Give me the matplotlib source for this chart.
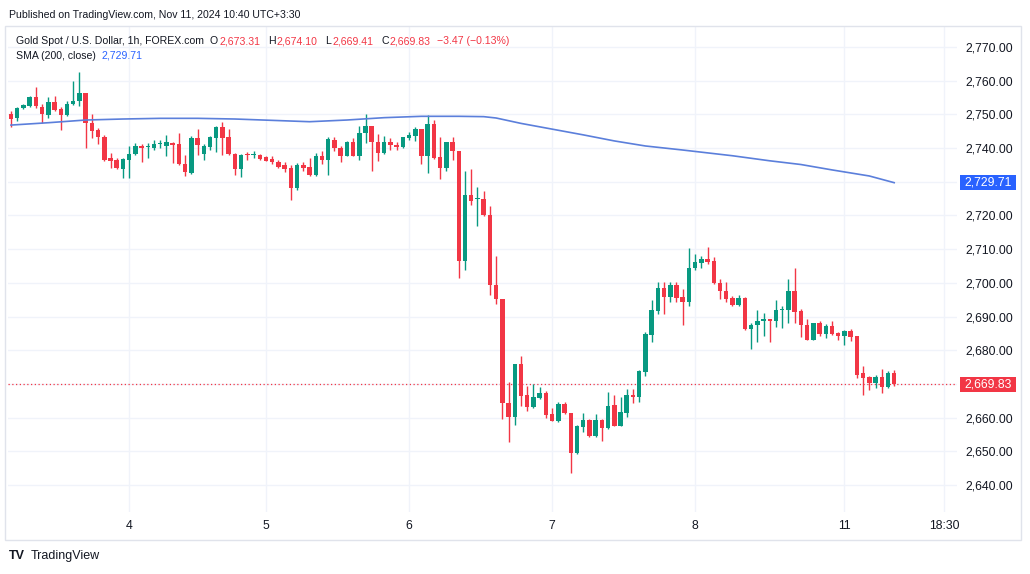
import numpy as np
import matplotlib.pyplot as plt
from matplotlib.patches import Rectangle
from matplotlib.transforms import blended_transform_factory

# hourly candles, Gold Spot / USD (FOREX.com)
opens = [2750.0, 2748.8, 2752.0, 2752.5, 2755.2, 2752.3, 2749.8, 2753.7, 2751.5, 2749.7,
         2753.2, 2754.0, 2756.4, 2747.3, 2745.2, 2743.3, 2737.0, 2736.5, 2733.8, 2736.5,
         2738.2, 2740.7, 2740.2, 2740.0, 2741.3, 2740.6, 2741.5, 2741.2, 2735.2, 2732.5,
         2743.0, 2738.2, 2740.2, 2743.0, 2746.3, 2743.3, 2738.2, 2733.8, 2738.2, 2737.9,
         2738.0, 2737.2, 2736.8, 2735.8, 2735.0, 2734.0, 2728.0, 2735.0, 2734.3, 2732.1,
         2737.6, 2736.4, 2742.4, 2739.9, 2737.7, 2741.7, 2737.7, 2744.4, 2746.5, 2741.9,
         2738.5, 2741.9, 2741.0, 2740.2, 2742.9, 2743.7, 2745.7, 2737.7, 2747.2, 2737.4,
         2734.0, 2741.7, 2739.0, 2706.5, 2726.0, 2725.0, 2724.8, 2720.2, 2699.4, 2695.3,
         2664.4, 2660.1, 2676.0, 2666.6, 2663.1, 2665.8, 2667.4, 2661.1, 2659.1, 2664.1,
         2661.5, 2649.4, 2657.2, 2659.2, 2654.6, 2659.2, 2656.9, 2663.7, 2657.6, 2661.5,
         2666.8, 2666.2, 2673.6, 2684.5, 2691.7, 2698.6, 2695.7, 2699.3, 2695.7, 2694.2,
         2704.3, 2705.9, 2707.1, 2706.4, 2699.8, 2697.5, 2695.4, 2693.5, 2695.4, 2686.3,
         2687.5, 2688.7, 2689.2, 2688.7, 2691.9, 2692.0, 2697.7, 2691.7, 2687.6, 2683.1,
         2688.0, 2684.8, 2687.1, 2685.1, 2684.3, 2685.7, 2684.3, 2673.1, 2672.2, 2670.2,
         2672.2, 2669.2, 2673.31]
highs = [2751.0, 2752.3, 2753.0, 2755.5, 2758.2, 2753.0, 2755.2, 2755.5, 2752.2, 2754.0,
         2760.0, 2762.5, 2756.4, 2750.0, 2746.0, 2744.0, 2738.5, 2737.0, 2737.0, 2740.5,
         2741.5, 2741.2, 2741.5, 2742.5, 2742.5, 2744.0, 2741.8, 2744.5, 2738.0, 2743.5,
         2745.5, 2741.2, 2743.7, 2746.5, 2747.8, 2745.5, 2738.5, 2738.2, 2738.8, 2739.2,
         2738.2, 2737.5, 2737.5, 2736.5, 2735.8, 2735.0, 2735.5, 2735.8, 2737.0, 2738.6,
         2739.2, 2743.2, 2743.2, 2740.7, 2742.0, 2742.9, 2746.4, 2750.2, 2746.5, 2744.2,
         2743.7, 2742.9, 2741.9, 2743.4, 2744.7, 2746.2, 2745.7, 2749.7, 2748.4, 2743.4,
         2741.9, 2743.4, 2739.0, 2733.2, 2733.7, 2728.4, 2727.2, 2722.7, 2708.0, 2695.3,
         2670.5, 2676.0, 2678.4, 2669.5, 2670.0, 2669.0, 2667.8, 2662.8, 2664.6, 2664.6,
         2661.5, 2657.8, 2661.3, 2659.7, 2661.0, 2659.5, 2667.7, 2666.7, 2666.2, 2668.4,
         2668.4, 2674.1, 2685.5, 2694.9, 2700.1, 2700.1, 2700.3, 2700.3, 2698.1, 2710.2,
         2708.5, 2707.9, 2710.5, 2707.6, 2701.1, 2700.3, 2696.2, 2696.4, 2695.7, 2688.2,
         2691.9, 2691.0, 2689.4, 2695.0, 2693.2, 2701.1, 2704.3, 2692.2, 2689.2, 2688.2,
         2688.7, 2687.8, 2688.7, 2685.5, 2686.1, 2686.3, 2684.3, 2675.4, 2672.4, 2672.6,
         2674.4, 2673.9, 2674.10]
lows = [2746.2, 2748.0, 2751.5, 2752.2, 2752.0, 2747.5, 2749.0, 2751.0, 2745.3, 2749.5,
        2752.8, 2752.5, 2740.0, 2743.0, 2741.2, 2736.0, 2734.0, 2733.8, 2731.0, 2731.0,
        2737.8, 2735.8, 2737.0, 2739.5, 2740.0, 2737.5, 2735.5, 2735.0, 2731.8, 2732.3,
        2738.0, 2736.5, 2739.5, 2738.7, 2737.8, 2738.0, 2732.0, 2731.5, 2736.5, 2737.0,
        2736.5, 2736.0, 2735.2, 2734.0, 2733.0, 2724.7, 2727.5, 2733.2, 2731.7, 2731.6,
        2735.4, 2732.0, 2739.0, 2735.7, 2737.5, 2737.5, 2736.4, 2741.4, 2733.2, 2736.2,
        2738.2, 2739.5, 2739.5, 2739.9, 2742.4, 2742.2, 2735.4, 2732.7, 2736.7, 2730.7,
        2733.2, 2736.4, 2701.4, 2703.9, 2723.0, 2716.9, 2719.8, 2696.5, 2693.6, 2659.6,
        2652.9, 2657.9, 2663.4, 2662.1, 2662.8, 2665.6, 2659.8, 2658.9, 2658.8, 2661.1,
        2643.7, 2649.1, 2655.8, 2654.4, 2654.4, 2653.1, 2656.6, 2657.4, 2657.4, 2660.3,
        2664.3, 2664.5, 2672.4, 2682.5, 2690.7, 2690.7, 2694.4, 2694.2, 2687.6, 2693.2,
        2703.9, 2704.3, 2705.6, 2699.6, 2695.2, 2694.2, 2693.2, 2693.2, 2686.1, 2680.5,
        2682.3, 2684.3, 2682.3, 2686.8, 2686.5, 2688.2, 2688.2, 2683.8, 2683.0, 2683.0,
        2684.3, 2683.5, 2684.5, 2683.1, 2681.5, 2682.8, 2671.9, 2666.8, 2668.2, 2668.9,
        2667.3, 2668.9, 2669.41]
closes = [2748.5, 2752.0, 2752.7, 2755.2, 2752.5, 2750.0, 2753.7, 2751.3, 2749.7, 2753.2,
          2754.0, 2756.4, 2747.3, 2745.0, 2743.2, 2736.3, 2736.2, 2734.0, 2736.8, 2738.3,
          2740.5, 2740.0, 2740.5, 2741.2, 2741.6, 2741.8, 2741.0, 2735.2, 2733.0, 2743.0,
          2741.0, 2740.5, 2743.3, 2746.3, 2743.0, 2738.2, 2733.8, 2738.0, 2737.8, 2738.1,
          2736.8, 2736.2, 2735.8, 2734.5, 2733.8, 2728.0, 2735.0, 2734.2, 2732.1, 2737.5,
          2736.4, 2742.7, 2739.9, 2737.7, 2741.7, 2737.7, 2744.5, 2746.5, 2741.7, 2738.5,
          2741.9, 2741.0, 2740.2, 2743.2, 2743.9, 2745.7, 2737.7, 2747.2, 2736.9, 2734.0,
          2741.7, 2739.0, 2706.5, 2726.0, 2724.3, 2725.2, 2720.2, 2699.4, 2695.3, 2664.4,
          2660.1, 2676.0, 2666.4, 2663.1, 2666.1, 2667.4, 2660.8, 2659.1, 2664.1, 2661.5,
          2649.4, 2657.6, 2659.2, 2654.6, 2659.2, 2657.0, 2663.5, 2657.6, 2661.8, 2666.8,
          2666.2, 2673.9, 2684.8, 2691.9, 2698.6, 2695.7, 2699.3, 2695.4, 2694.2, 2704.4,
          2706.3, 2707.1, 2706.1, 2699.8, 2697.5, 2695.2, 2693.5, 2695.4, 2686.3, 2687.5,
          2688.7, 2689.4, 2688.7, 2691.9, 2692.2, 2697.7, 2691.4, 2687.5, 2683.1, 2688.0,
          2684.8, 2687.1, 2684.8, 2684.3, 2685.7, 2684.0, 2672.6, 2671.9, 2670.2, 2672.2,
          2669.2, 2673.30, 2669.83]

# SMA(200, close) read at a set of candle positions
sma_idx = [0, 6, 12, 18, 24, 30, 36, 42, 48, 54, 60, 66, 72, 76, 78, 82, 87, 92, 97,
           102, 108, 116, 122, 127, 132, 138, 142]
sma_val = [2746.8, 2747.5, 2748.3, 2748.6, 2748.8, 2748.8, 2748.6, 2748.2, 2747.8, 2748.3,
           2749.0, 2749.4, 2749.4, 2749.3, 2748.9, 2747.3, 2745.6, 2743.9, 2742.1, 2740.6,
           2739.4, 2737.7, 2736.2, 2735.1, 2733.5, 2731.7, 2729.71]

day_pos = [19, 41, 64, 87, 110, 134, 150]
day_labels = ['4', '5', '6', '7', '8', '11', '18:30']
price_ticks = list(range(2640, 2771, 10))

GREEN = '#089981'
RED = '#f23645'
BLUE = '#2962ff'
DARK = '#131722'
GRID = '#f0f3fa'

plt.rcParams['font.family'] = ['Liberation Sans', 'DejaVu Sans']

W, H = 1030, 574
def fx(px):
    return px / W
def fy(py):
    return 1 - py / H

fig = plt.figure(figsize=(W / 100, H / 100), dpi=100)
fig.patch.set_facecolor('white')
renderer = fig.canvas.get_renderer()

# outer panel frame
fig.add_artist(Rectangle((fx(5), fy(540)), fx(1021) - fx(5), fy(26) - fy(540),
                         transform=fig.transFigure, fill=False, ec='#e0e3eb', lw=1))

ax = fig.add_axes([fx(8), fy(512), fx(957) - fx(8), fy(27) - fy(512)])

o = np.array(opens)
h = np.array(highs)
l = np.array(lows)
c = np.array(closes)
x = np.arange(len(o))
cols = np.where(c >= o, GREEN, RED)

ax.vlines(x, l, h, colors=cols, lw=1, zorder=3)
ax.bar(x, np.maximum(np.abs(c - o), 0.3), bottom=np.minimum(o, c), width=0.72,
       color=cols, lw=0, zorder=4)
ax.plot(sma_idx, sma_val, color='#5b7fdb', lw=1.2, zorder=5)
ax.axhline(c[-1], color=RED, lw=0.9, ls=(0, (1, 2)), zorder=2)

ax.set_xlim(-0.48, 152.1)
ax.set_ylim(2632.0, 2775.9)
ax.set_xticks(day_pos)
ax.set_xticklabels(day_labels)
ax.set_yticks(price_ticks)
ax.set_yticklabels(['' if t in (2670, 2730) else f'{t:,.2f}' for t in price_ticks])
ax.yaxis.tick_right()
ax.tick_params(axis='both', length=0, labelsize=8.8, labelcolor=DARK)
ax.tick_params(axis='y', pad=6)
ax.tick_params(axis='x', pad=6)
ax.grid(color=GRID, lw=1)
ax.set_axisbelow(True)
for s in ax.spines.values():
    s.set_visible(False)

# last-value boxes on the price scale
tr = blended_transform_factory(fig.transFigure, ax.transData)
bh = 15 / 3.37
for val, col in [(sma_val[-1], BLUE), (c[-1], RED)]:
    fig.add_artist(Rectangle((fx(960), val - bh / 2), fx(1016) - fx(960), bh,
                             transform=tr, fc=col, ec='none', clip_on=False))
    fig.text(fx(988), val, f'{val:,.2f}', transform=tr, ha='center', va='center',
             color='white', fontsize=8.8)


def row(x0, y, parts, size=7.6):
    # lay texts one after another, each with its own colour and trailing gap
    px = x0
    for s, col, gap in parts:
        t = fig.text(fx(px), fy(y), s, fontsize=size, color=col, va='center')
        px += t.get_window_extent(renderer).width + gap


fig.text(fx(9), fy(15), 'Published on TradingView.com, Nov 11, 2024 10:40 UTC+3:30',
         fontsize=7.6, color=DARK, va='center')
chg = c[-1] - c[-2]
pct = chg / c[-2] * 100
row(16, 41, [('Gold Spot / U.S. Dollar, 1h, FOREX.com', DARK, 6),
             ('O', DARK, 1), (f'{o[-1]:,.2f}', RED, 8),
             ('H', DARK, 1), (f'{h[-1]:,.2f}', RED, 8),
             ('L', DARK, 1), (f'{l[-1]:,.2f}', RED, 8),
             ('C', DARK, 1), (f'{c[-1]:,.2f}', RED, 6),
             (f'\u2212{abs(chg):.2f} (\u2212{abs(pct):.2f}%)', RED, 0)])
row(16, 56, [('SMA (200, close)', DARK, 6), (f'{sma_val[-1]:,.2f}', BLUE, 0)])

# footer logo
fig.text(fx(9), fy(556), 'TV', fontsize=9, weight='bold', color=DARK, va='center')
fig.text(fx(31), fy(556), 'TradingView', fontsize=9, color=DARK, va='center')

fig.savefig('out.png', dpi=100)
